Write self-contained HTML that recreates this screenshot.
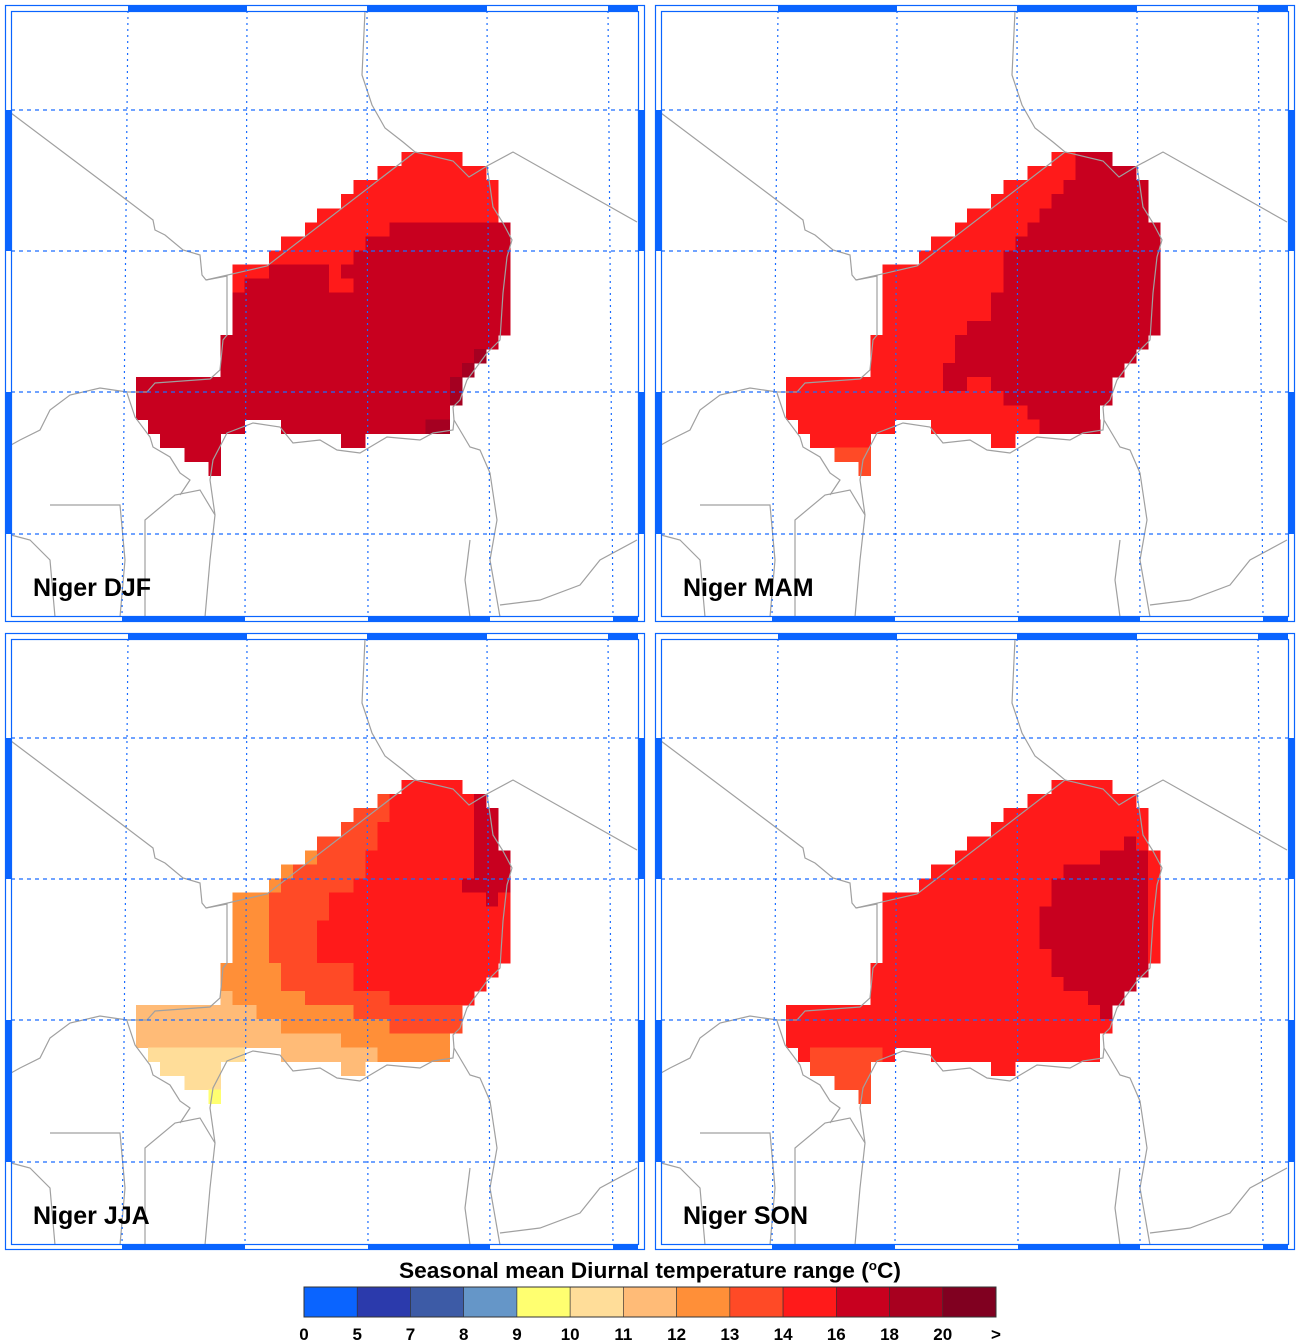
<!DOCTYPE html>
<html><head><meta charset="utf-8"><style>
html,body{margin:0;padding:0;background:#fff;}
svg{display:block;}
</style></head><body>
<svg id="s" width="1300" height="1344" xmlns="http://www.w3.org/2000/svg" font-family="Liberation Sans, sans-serif">
<rect width="1300" height="1344" fill="#fff"/>
<g id="maps"></g>
<text x="399" y="1278" font-weight="bold" font-size="22" textLength="502" lengthAdjust="spacingAndGlyphs">Seasonal mean Diurnal temperature range (<tspan font-size="13" dy="-8">o</tspan><tspan dy="8">C)</tspan></text>
<g id="cb"></g>
</svg>
<script>
const NS="http://www.w3.org/2000/svg";
const C={a:"#ff1a1a",b:"#c8001f",c:"#a50021",d:"#ff4a26",e:"#ff8f38",f:"#ffbb77",g:"#ffdd99",h:"#ffff70"};
const mask=[[[22,27]],[[20,29]],[[18,30]],[[17,30]],[[15,30]],[[14,31]],[[12,31]],[[11,31]],[[8,31]],[[8,31]],[[8,31]],[[8,31]],[[8,31]],[[7,30]],[[7,29]],[[7,28]],[[0,27]],[[0,27]],[[0,26]],[[1,9],[12,26]],[[2,7],[17,19]],[[4,7]],[[6,7]]];
function R(list,col){return list.map(x=>[x[0],x[1],x[2]===undefined?31:x[2],col]);}
const panels=[
{ox:0,oy:0,lab:"Niger DJF",def:"b",ov:[[0,0,31,"a"],[1,0,31,"a"],[2,0,31,"a"],[3,0,31,"a"],[4,0,31,"a"],[5,0,21,"a"],[6,0,19,"a"],[7,0,18,"a"],[8,8,11,"a"],[8,16,17,"a"],[9,8,9,"a"],[9,16,18,"a"],[14,28,29,"c"],[15,27,28,"c"],[16,26,27,"c"],[17,26,27,"c"],[19,24,26,"c"]]},
{ox:650,oy:0,lab:"Niger MAM",def:"a",ov:R([[0,24],[1,24],[2,23],[3,22],[4,21],[5,20],[6,19],[7,18],[8,18],[9,18],[10,17],[11,17],[12,15],[13,14],[14,14],[15,13],[16,13,15],[16,17],[17,18],[18,20],[19,21]],"b").concat([[21,0,31,"d"],[22,0,31,"d"]])},
{ox:0,oy:628,lab:"Niger JJA",def:"a",ov:[
[1,20,21,"d"],[1,28,29,"b"],[2,18,21,"d"],[2,28,30,"b"],[3,17,20,"d"],[3,28,30,"b"],[4,15,20,"d"],[4,28,30,"b"],
[5,14,15,"e"],[5,15,19,"d"],[5,28,31,"b"],[6,12,13,"e"],[6,13,19,"d"],[6,28,31,"b"],[7,11,12,"e"],[7,12,18,"d"],[7,27,31,"b"],
[8,8,11,"e"],[8,11,16,"d"],[8,29,30,"b"],[9,8,11,"e"],[9,11,16,"d"],[10,8,11,"e"],[10,11,15,"d"],[11,8,11,"e"],[11,11,15,"d"],[12,8,11,"e"],[12,11,15,"d"],
[13,7,12,"e"],[13,12,18,"d"],[14,7,12,"e"],[14,12,18,"d"],[15,7,8,"f"],[15,8,14,"e"],[15,14,21,"d"],
[16,0,10,"f"],[16,10,18,"e"],[16,18,31,"d"],[17,0,12,"f"],[17,12,21,"e"],[17,21,31,"d"],[18,0,17,"f"],[18,17,31,"e"],
[19,0,9,"g"],[19,12,20,"f"],[19,20,31,"e"],[20,0,7,"g"],[20,17,19,"f"],[21,0,31,"g"],[22,0,31,"h"]]},
{ox:650,oy:628,lab:"Niger SON",def:"a",ov:[[4,28,29,"b"],[5,26,30,"b"],[6,23,30,"b"],[7,22,30,"b"],[8,22,30,"b"],[9,21,30,"b"],[10,21,30,"b"],[11,21,30,"b"],[12,22,30,"b"],[13,22,30,"b"],[14,23,29,"b"],[15,25,28,"b"],[16,26,27,"b"],[19,2,8,"d"],[20,2,7,"d"],[21,0,31,"d"],[22,0,31,"d"]]}
];
const borders=[
[[365,11],[362,75],[372,105],[385,128],[403,142],[415,152],[453,161],[469,177],[487,166],[513,152],[637,222]],
[[415,152],[267,266],[206,280],[202,275],[200,255],[183,250],[165,235],[155,230],[153,220],[120,195],[11,113]],
[[487,166],[493,207],[503,223],[512,240],[507,257],[503,293],[500,340],[487,353],[467,380],[460,400],[453,407],[454,420],[470,447],[480,450],[490,473],[497,520],[490,560],[500,617]],
[[206,280],[227,276],[227,335],[223,340],[220,370],[210,379],[155,383],[147,392],[127,392],[100,388],[70,395],[50,410],[40,430],[20,440],[11,445]],
[[127,393],[135,417],[150,437],[153,447],[170,457],[180,473],[190,480],[180,495]],
[[454,420],[453,430],[433,433],[420,440],[387,437],[360,453],[337,450],[320,440],[293,443],[280,427],[253,423],[227,433],[213,460],[210,480],[215,515],[210,560],[205,617]],
[[50,505],[120,505],[125,560],[120,617]],
[[145,617],[145,520],[175,495],[200,490],[215,515]],
[[11,535],[30,540],[50,560],[55,617]],
[[470,540],[465,580],[470,617]],
[[500,605],[540,600],[580,585],[600,560],[637,540]]
];
function el(t,a,p){const e=document.createElementNS(NS,t);for(const k in a)e.setAttribute(k,a[k]);p.appendChild(e);return e;}
const M=document.getElementById("maps");
const cw=12.07,rh=14.07;
for(const P of panels){
 const g=el("g",{transform:`translate(${P.ox},${P.oy})`},M);
 const cells=mask.map(r=>{const a=new Array(31).fill(null);for(const [s,e] of r)for(let c=s;c<e;c++)a[c]=P.def;return a;});
 for(const [r,s,e,col] of P.ov)for(let c=s;c<e;c++)if(cells[r][c])cells[r][c]=col;
 const cg=el("g",{"shape-rendering":"crispEdges"},g);
 cells.forEach((row,r)=>{let c=0;while(c<31){if(!row[c]){c++;continue;}let k=c;while(k<31&&row[k]===row[c])k++;
  el("rect",{x:(136+cw*c).toFixed(1),y:(152+rh*r).toFixed(1),width:(cw*(k-c)+0.4).toFixed(1),height:(rh+0.4).toFixed(1),fill:C[row[c]]},cg);c=k;}});
 for(const b of borders)el("polyline",{points:b.map(p=>p.join(",")).join(" "),fill:"none",stroke:"#a0a0a0","stroke-width":1.2},g);
 const vt=[128,247,367,487,608],vb=[122,245,368,490,613];
 for(let i=0;i<5;i++)el("line",{x1:vt[i],y1:11,x2:vb[i],y2:617,stroke:"#1a6cff","stroke-width":1.2,"stroke-dasharray":"2,4"},g);
 for(const y of [110,251,392,534])el("line",{x1:11,y1:y,x2:638,y2:y,stroke:"#1a6cff","stroke-width":1.2,"stroke-dasharray":"4,4"},g);
 const bl="#0a64ff";
 for(const [a,b] of [[128,247],[367,487],[608,638]])el("rect",{x:a,y:5,width:b-a,height:6,fill:bl},g);
 for(const [a,b] of [[122,245],[368,490],[613,638]])el("rect",{x:a,y:617,width:b-a,height:5,fill:bl},g);
 for(const [a,b] of [[110,251],[392,534]]){el("rect",{x:5,y:a,width:6,height:b-a,fill:bl},g);el("rect",{x:638,y:a,width:6,height:b-a,fill:bl},g);}
 el("rect",{x:5.5,y:5.5,width:639,height:616,fill:"none",stroke:bl,"stroke-width":1.2},g);
 el("rect",{x:11.5,y:11.5,width:627,height:605,fill:"none",stroke:bl,"stroke-width":1.2},g);
 const t=el("text",{x:33,y:596,"font-size":25,"font-weight":"bold",fill:"#000"},g);t.textContent=P.lab;
}
const cols=["#0a64ff","#2b3aac","#3d5ba6","#6596c8","#ffff70","#ffdd99","#ffbb77","#ff8f38","#ff4a26","#ff1a1a","#c8001f","#a8001f","#800020"];
const labs=["0","5","7","8","9","10","11","12","13","14","16","18","20",">"];
const cb=document.getElementById("cb");const bw=(996-304)/13;
cols.forEach((c,i)=>el("rect",{x:304+bw*i,y:1287,width:bw,height:30,fill:c,stroke:"#333","stroke-width":0.6},cb));
el("rect",{x:304,y:1287,width:692,height:30,fill:"none",stroke:"#333","stroke-width":1},cb);
labs.forEach((l,i)=>{const t=el("text",{x:304+bw*i,y:1340,"text-anchor":"middle","font-size":17,"font-weight":"bold"},cb);t.textContent=l;});
</script>
</body></html>
